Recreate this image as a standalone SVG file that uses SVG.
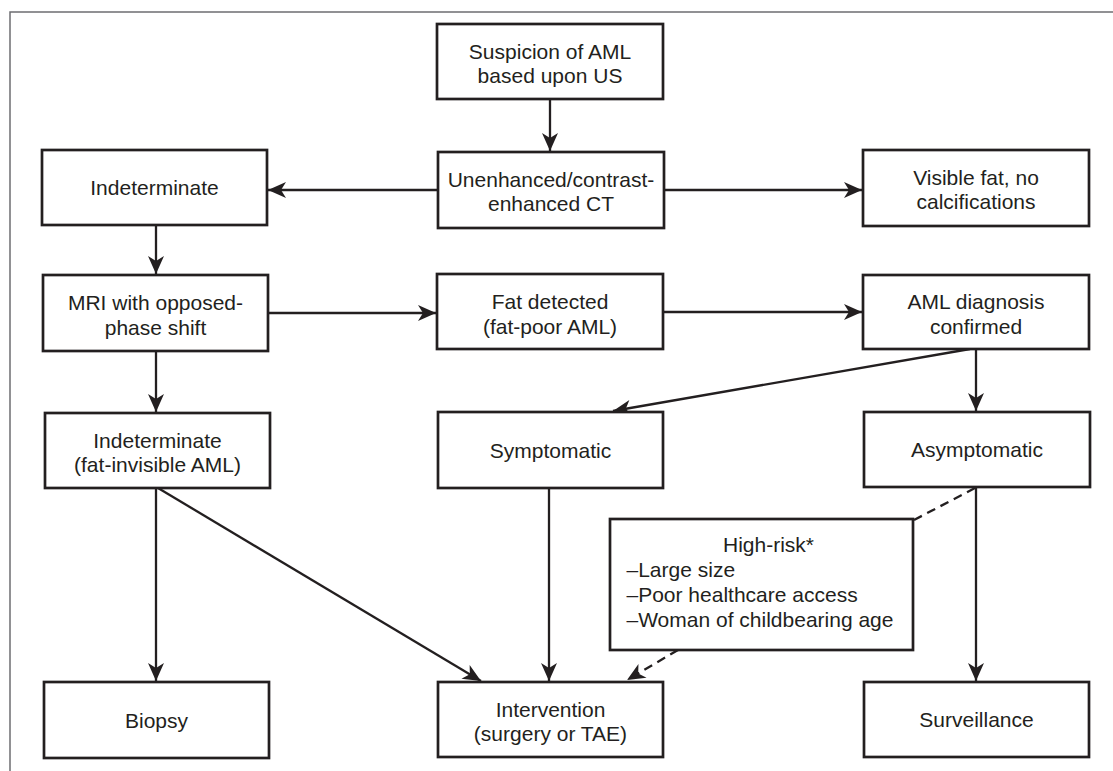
<svg xmlns="http://www.w3.org/2000/svg" width="1113" height="771" viewBox="0 0 1113 771">
<style>
.box{fill:#fff;stroke:#231f20;stroke-width:2.7}
.t{font-family:"Liberation Sans",Arial,Helvetica,sans-serif;font-size:21px;fill:#231f20;text-anchor:middle}
.tl{font-family:"Liberation Sans",Arial,Helvetica,sans-serif;font-size:21px;fill:#231f20}
.c{fill:none;stroke:#231f20;stroke-width:2.3}
.a{marker-end:url(#arr)}
.d{stroke-dasharray:9,6}
</style>
<defs>
<marker id="arr" markerUnits="userSpaceOnUse" markerWidth="24" markerHeight="20" viewBox="-19 -10 20 20" refX="0" refY="0" orient="auto">
<path d="M0,0 L-18,-8 L-13,0 L-18,8 Z" fill="#231f20"/>
</marker>
</defs>
<rect width="1113" height="771" fill="#fff"/>
<path d="M1113,12 H10 V771" fill="none" stroke="#6d6e71" stroke-width="1.5"/>
<g id="connectors">
<line class="c a" x1="550" y1="99" x2="550" y2="151"/>
<line class="c a" x1="438" y1="190" x2="268" y2="190"/>
<line class="c a" x1="664" y1="190" x2="862" y2="190"/>
<line class="c a" x1="156" y1="225" x2="156" y2="274"/>
<line class="c a" x1="268" y1="313" x2="436" y2="313"/>
<line class="c a" x1="663" y1="312" x2="862" y2="312"/>
<line class="c a" x1="970" y1="349" x2="613" y2="411"/>
<line class="c a" x1="976" y1="349" x2="976" y2="411"/>
<line class="c a" x1="156" y1="351" x2="156" y2="412"/>
<line class="c a" x1="156" y1="488" x2="156" y2="681"/>
<line class="c a" x1="158" y1="488" x2="481" y2="681"/>
<line class="c a" x1="549" y1="488" x2="549" y2="681"/>
<line class="c a" x1="976" y1="487" x2="976" y2="681"/>
<line class="c d" x1="975" y1="488" x2="914" y2="520"/>
<line class="c d a" x1="678" y1="650" x2="627" y2="680"/>
</g>
<g id="n-suspicion"><rect class="box" x="437" y="24" width="226" height="75"/><text class="t" x="550" y="58.5">Suspicion of AML</text><text class="t" x="550" y="83">based upon US</text></g>
<g id="n-ct"><rect class="box" x="438" y="152" width="226" height="76"/><text class="t" x="551" y="186.5">Unenhanced/contrast-</text><text class="t" x="551" y="211">enhanced CT</text></g>
<g id="n-indet1"><rect class="box" x="42" y="150" width="225" height="75"/><text class="t" x="154.5" y="195">Indeterminate</text></g>
<g id="n-visiblefat"><rect class="box" x="863" y="150" width="226" height="76"/><text class="t" x="976" y="184.5">Visible fat, no</text><text class="t" x="976" y="209">calcifications</text></g>
<g id="n-mri"><rect class="box" x="43" y="275" width="225" height="76"/><text class="t" x="155.5" y="310">MRI with opposed-</text><text class="t" x="155.5" y="334.5">phase shift</text></g>
<g id="n-fat"><rect class="box" x="437" y="274" width="226" height="75"/><text class="t" x="550" y="309">Fat detected</text><text class="t" x="550" y="333.5">(fat-poor AML)</text></g>
<g id="n-amldx"><rect class="box" x="863" y="275" width="226" height="74"/><text class="t" x="976" y="309">AML diagnosis</text><text class="t" x="976" y="333.5">confirmed</text></g>
<g id="n-indet2"><rect class="box" x="45" y="413" width="225" height="75"/><text class="t" x="157.5" y="447.5">Indeterminate</text><text class="t" x="157.5" y="472">(fat-invisible AML)</text></g>
<g id="n-symp"><rect class="box" x="438" y="412" width="225" height="76"/><text class="t" x="550.5" y="457.5">Symptomatic</text></g>
<g id="n-asymp"><rect class="box" x="864" y="412" width="226" height="75"/><text class="t" x="977" y="457">Asymptomatic</text></g>
<g id="n-highrisk"><rect class="box" x="610" y="519" width="303" height="131"/><text class="tl" x="723" y="551.5">High-risk*</text><text class="tl" x="626.5" y="576.5">–Large size</text><text class="tl" x="626.5" y="601.5">–Poor healthcare access</text><text class="tl" x="626.5" y="626.5">–Woman of childbearing age</text></g>
<g id="n-biopsy"><rect class="box" x="44" y="682" width="225" height="76"/><text class="t" x="156.5" y="727.5">Biopsy</text></g>
<g id="n-intervention"><rect class="box" x="438" y="682" width="225" height="75"/><text class="t" x="550.5" y="716.5">Intervention</text><text class="t" x="550.5" y="741">(surgery or TAE)</text></g>
<g id="n-surveillance"><rect class="box" x="864" y="682" width="225" height="75"/><text class="t" x="976.5" y="727">Surveillance</text></g>
</svg>
